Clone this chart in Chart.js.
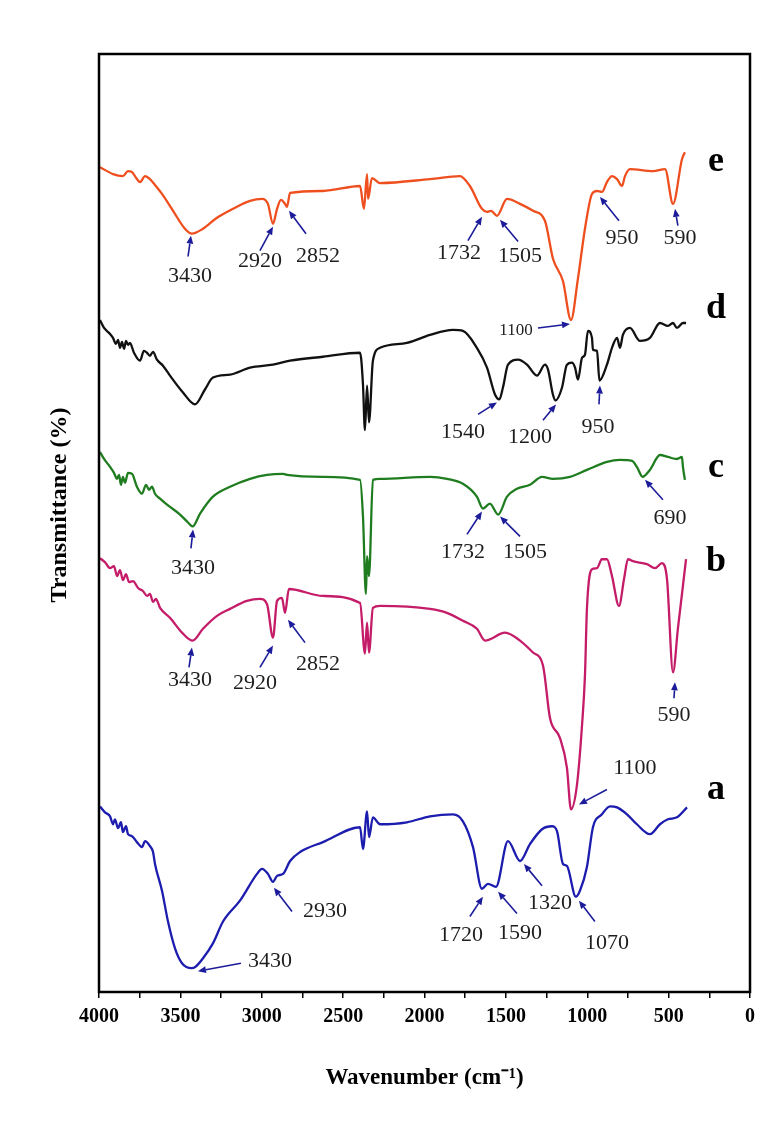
<!DOCTYPE html>
<html>
<head>
<meta charset="utf-8">
<script src="https://cdn.jsdelivr.net/npm/chart.js@4.4.1/dist/chart.umd.min.js"></script>
<style>
  html, body { margin: 0; padding: 0; background: #fff; }
  canvas { display: block; }
</style>
</head>
<body>
<canvas id="ftir" width="780" height="1121"></canvas>
<script>
// Wavenumber axis ticks (cm-1), labelled every 500 with minor marks in between
const xTicks = [4000, 3500, 3000, 2500, 2000, 1500, 1000, 500, 0];

// Spectrum e
const waveE = [3994,3914,3853,3822,3797,3767,3748,3717,3687,3656,3613,3545,3472,3429,3361,3275,3177,3072,2998,2962,2931,2906,2882,2857,2845,2826,2624,2396,2372,2353,2347,2323,2273,1966,1782,1721,1647,1616,1591,1555,1493,1413,1333,1260,1211,1149,1100,1057,1014,971,940,910,879,848,817,787,768,738,596,522,473,418,400];
const transE = [831,824,822,827,826,819,816,822,819,813,804,787,769,764,769,780,789,797,799,794,774,789,798,794,791,805,807,812,789,824,799,820,815,819,822,812,789,786,787,782,799,794,787,777,739,716,677,719,769,804,807,806,816,822,819,812,822,829,827,829,794,839,846];

// Spectrum d
const waveD = [3994,3969,3932,3914,3896,3883,3871,3859,3846,3834,3822,3810,3785,3748,3724,3705,3687,3668,3644,3607,3564,3484,3410,3349,3300,3195,3072,2931,2826,2624,2396,2378,2366,2353,2341,2317,2273,2108,1966,1825,1764,1678,1616,1567,1540,1518,1487,1425,1370,1309,1260,1241,1211,1195,1155,1125,1094,1075,1057,1032,1014,996,971,965,940,925,879,848,817,799,781,738,676,615,553,504,473,449,412,393];
const transD = [677,669,663,659,653,657,649,655,648,656,652,654,644,636,646,644,641,645,637,631,621,604,592,607,619,622,629,632,636,640,644,612,566,611,574,636,649,654,662,667,666,649,629,602,597,609,632,637,632,621,632,627,602,596,609,632,634,629,617,639,642,666,659,647,646,616,632,649,659,649,662,669,656,659,674,671,674,669,674,674];

// Spectrum c
const waveC = [3994,3969,3932,3908,3889,3877,3865,3853,3840,3822,3797,3767,3736,3711,3693,3674,3656,3625,3582,3502,3453,3425,3379,3300,3195,3072,2968,2869,2845,2624,2396,2378,2360,2353,2341,2317,2273,1966,1862,1764,1678,1641,1598,1548,1493,1432,1352,1278,1211,1106,1002,879,799,725,695,660,615,553,504,449,418,412,400];
const transC = [544,537,529,523,517,521,511,519,513,523,522,509,502,511,506,509,502,497,491,481,473,469,482,499,509,517,521,522,521,519,516,479,401,439,419,516,517,519,517,512,499,487,492,481,499,507,511,519,517,519,526,534,536,535,529,519,526,541,539,537,539,529,516];

// Spectrum b
const waveB = [3994,3963,3932,3908,3889,3871,3853,3834,3816,3791,3760,3730,3705,3687,3668,3650,3625,3564,3484,3425,3361,3275,3195,3091,3011,2968,2931,2906,2876,2857,2833,2624,2396,2366,2353,2341,2317,2273,1966,1862,1764,1678,1628,1505,1413,1333,1272,1229,1168,1125,1100,1063,1032,1014,1002,971,940,910,879,848,805,774,750,719,633,584,541,510,473,443,393];
const transB = [437,433,427,429,419,425,415,421,413,414,407,404,399,401,393,396,387,377,361,354,366,379,386,394,396,391,357,394,397,382,406,399,392,341,372,342,387,389,386,382,374,366,354,362,354,342,329,276,256,226,184,209,269,319,386,426,427,436,436,419,389,416,436,434,431,427,432,416,322,366,436];

// Spectrum a
const waveA = [3994,3963,3932,3914,3902,3883,3865,3853,3834,3822,3797,3767,3736,3717,3687,3668,3656,3613,3576,3533,3490,3430,3410,3361,3300,3238,3134,3029,2998,2962,2931,2906,2869,2826,2765,2624,2396,2378,2353,2341,2317,2273,2108,1966,1825,1764,1702,1647,1610,1561,1487,1413,1352,1278,1217,1186,1149,1125,1070,1045,1002,965,910,860,817,756,695,615,553,504,449,387];
const transA = [187,181,177,169,174,165,171,161,167,159,157,151,146,152,147,141,129,102,71,44,29,24,25,34,49,71,92,119,124,119,111,117,119,132,141,151,166,144,182,156,176,169,171,177,179,172,146,104,109,106,152,132,149,164,167,162,129,127,96,102,126,166,179,187,186,179,169,159,169,174,176,186];

// Series names, drawn beside each spectrum
const seriesNames = ['e', 'd', 'c', 'b', 'a'];
const seriesColors = ['#ef4f1e', '#111111', '#1f7d20', '#c41c68', '#1c1cae'];

// Band assignments: arrow tip, arrow tail and text centre, all in (cm-1, T) units
const peakNotes = [
  // e
  { text: '3430', tip: [3435, 762], tail: [3453, 741], at: [3441, 721] },
  { text: '2920', tip: [2931, 771], tail: [3011, 747], at: [3011, 736] },
  { text: '2852', tip: [2833, 787], tail: [2728, 764], at: [2654, 741] },
  { text: '1732', tip: [1647, 781], tail: [1733, 757], at: [1788, 744] },
  { text: '1505', tip: [1536, 778], tail: [1425, 756], at: [1413, 741] },
  { text: '950',  tip: [922, 801],  tail: [805, 777],  at: [787, 759] },
  { text: '590',  tip: [461, 789],  tail: [443, 772],  at: [430, 759] },
  { text: '1100', tip: [1106, 673], tail: [1303, 669], at: [1438, 666], small: true },
  // d
  { text: '1540', tip: [1555, 594], tail: [1671, 582], at: [1764, 564] },
  { text: '1200', tip: [1192, 592], tail: [1272, 576], at: [1352, 559] },
  { text: '950',  tip: [922, 611],  tail: [928, 592],  at: [934, 569] },
  // c
  { text: '3430', tip: [3422, 466], tail: [3435, 447], at: [3422, 427] },
  { text: '1732', tip: [1647, 484], tail: [1739, 461], at: [1764, 443] },
  { text: '1505', tip: [1536, 479], tail: [1413, 459], at: [1383, 443] },
  { text: '690',  tip: [645, 516],  tail: [535, 496],  at: [492, 477] },
  // b
  { text: '3430', tip: [3429, 347], tail: [3447, 327], at: [3441, 314] },
  { text: '2920', tip: [2931, 349], tail: [3011, 327], at: [3042, 311] },
  { text: '2852', tip: [2839, 375], tail: [2734, 352], at: [2654, 330] },
  { text: '590',  tip: [461, 312],  tail: [467, 296],  at: [467, 279] },
  { text: '1100', tip: [1051, 189], tail: [879, 204],  at: [707, 225] },
  // a
  { text: '2930', tip: [2925, 105], tail: [2814, 81],  at: [2611, 81] },
  { text: '1720', tip: [1641, 96],  tail: [1721, 76],  at: [1776, 57] },
  { text: '1590', tip: [1548, 101], tail: [1432, 79],  at: [1413, 59] },
  { text: '1320', tip: [1389, 129], tail: [1278, 107], at: [1229, 89] },
  { text: '1070', tip: [1051, 92],  tail: [953, 71],   at: [879, 49] },
  { text: '3430', tip: [3392, 21],  tail: [3128, 29],  at: [2949, 31] }
];

// Where each series name sits (cm-1, T at the text baseline)
const nameSpots = [[209, 827], [209, 679], [209, 519], [209, 424], [209, 194]];

const yTitle = 'Transmittance (%)';
const SERIF = '"Liberation Serif", "Times New Roman", Times, serif';

function toPoints(wave, trans) {
  return wave.map((w, i) => ({ x: w, y: trans[i] }));
}

const spectra = [
  toPoints(waveE, transE),
  toPoints(waveD, transD),
  toPoints(waveC, transC),
  toPoints(waveB, transB),
  toPoints(waveA, transA)
];

// Closed black frame around the plotting area, plus the vertical axis title
const framePlugin = {
  id: 'frame',
  afterDraw(chart) {
    const { ctx, chartArea: a } = chart;
    ctx.save();
    ctx.strokeStyle = '#000';
    ctx.lineWidth = 2.5;
    ctx.strokeRect(a.left, a.top, a.right - a.left, a.bottom - a.top);
    ctx.translate(a.left - 39, (a.top + a.bottom) / 2 - 18);
    ctx.rotate(-Math.PI / 2);
    ctx.fillStyle = '#000';
    ctx.font = 'bold 24px ' + SERIF;
    ctx.textAlign = 'center';
    ctx.textBaseline = 'middle';
    ctx.fillText(yTitle, 0, 0);
    ctx.restore();
  }
};

function drawArrow(ctx, x0, y0, x1, y1) {
  const ang = Math.atan2(y1 - y0, x1 - x0);
  const head = 8, half = 3.4;
  const bx = x1 - head * Math.cos(ang), by = y1 - head * Math.sin(ang);
  ctx.beginPath();
  ctx.moveTo(x0, y0);
  ctx.lineTo(bx, by);
  ctx.stroke();
  ctx.beginPath();
  ctx.moveTo(x1, y1);
  ctx.lineTo(bx + half * Math.sin(ang), by - half * Math.cos(ang));
  ctx.lineTo(bx - half * Math.sin(ang), by + half * Math.cos(ang));
  ctx.closePath();
  ctx.fill();
}

// Peak arrows, band labels and series names
const notesPlugin = {
  id: 'peakNotes',
  afterDatasetsDraw(chart) {
    const { ctx } = chart;
    const xs = chart.scales.x, ys = chart.scales.y;
    const px = p => [xs.getPixelForValue(p[0]), ys.getPixelForValue(p[1])];
    ctx.save();
    ctx.strokeStyle = '#1c1c9a';
    ctx.fillStyle = '#1c1c9a';
    ctx.lineWidth = 1.6;
    for (const n of peakNotes) {
      const [tx, ty] = px(n.tail), [hx, hy] = px(n.tip);
      drawArrow(ctx, tx, ty, hx, hy);
    }
    ctx.fillStyle = '#1e1e1e';
    ctx.textAlign = 'center';
    ctx.textBaseline = 'middle';
    for (const n of peakNotes) {
      const [lx, ly] = px(n.at);
      ctx.font = (n.small ? '17px ' : '22px ') + SERIF;
      ctx.fillText(n.text, lx, ly);
    }
    ctx.fillStyle = '#000';
    ctx.textBaseline = 'alphabetic';
    ctx.font = 'bold 36px ' + SERIF;
    seriesNames.forEach((s, i) => {
      const [lx, ly] = px(nameSpots[i]);
      ctx.fillText(s, lx, ly);
    });
    ctx.restore();
  }
};

new Chart(document.getElementById('ftir'), {
  type: 'line',
  data: {
    datasets: spectra.map((pts, i) => ({
      label: seriesNames[i],
      data: pts,
      borderColor: seriesColors[i],
      borderWidth: 2.3,
      pointRadius: 0,
      cubicInterpolationMode: 'monotone',
      fill: false
    }))
  },
  options: {
    responsive: false,
    animation: false,
    devicePixelRatio: 1,
    layout: { padding: { left: 99, right: 30, top: 54, bottom: 29.2 } },
    plugins: {
      legend: { display: false },
      tooltip: { enabled: false }
    },
    scales: {
      x: {
        type: 'linear',
        reverse: true,
        min: xTicks[xTicks.length - 1],
        max: xTicks[0],
        afterBuildTicks(scale) {
          const t = [];
          for (let i = 0; i < xTicks.length; i++) {
            t.push({ value: xTicks[i] });
            if (i < xTicks.length - 1) t.push({ value: (xTicks[i] + xTicks[i + 1]) / 2 });
          }
          scale.ticks = t;
        },
        ticks: {
          autoSkip: false,
          maxRotation: 0,
          padding: 7,
          color: '#000',
          font: { family: SERIF, size: 20, weight: 'bold' },
          callback: v => (xTicks.includes(v) ? String(v) : '')
        },
        grid: { drawOnChartArea: false, drawTicks: true, tickLength: 6, color: '#000', lineWidth: 1.5 },
        border: { display: false },
        title: {
          display: true,
          text: 'Wavenumber (cm\u207B\u00B9)',
          color: '#000',
          font: { family: SERIF, size: 23, weight: 'bold' },
          padding: { top: 28.2, bottom: 0 }
        }
      },
      y: {
        display: false,
        min: 0,
        max: 945
      }
    }
  },
  plugins: [framePlugin, notesPlugin]
});
</script>
</body>
</html>
